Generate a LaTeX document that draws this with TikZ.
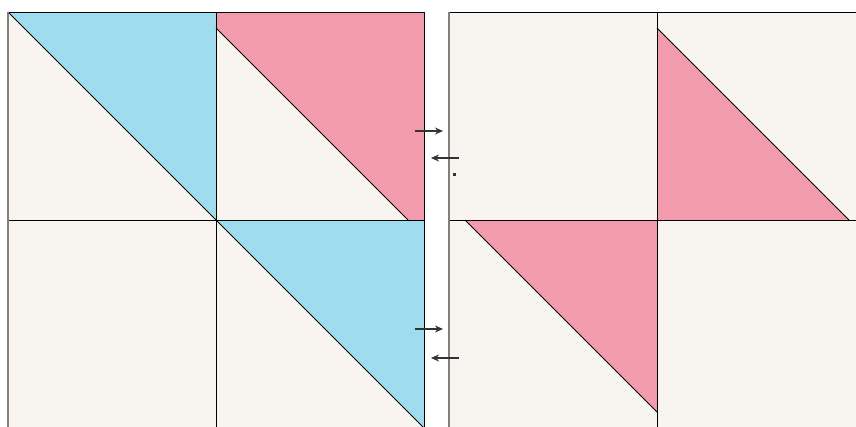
\documentclass[tikz,border=0pt]{standalone}
\usetikzlibrary{arrows.meta}
\definecolor{cream}{HTML}{F8F5F0}
\definecolor{qblue}{HTML}{9EDCEE}
\definecolor{qpink}{HTML}{F19BAC}
\definecolor{arr}{HTML}{333333}
\begin{document}
\begin{tikzpicture}[x=1pt,y=-1pt,
  seam/.style={black,line width=0.9pt},
  edge/.style={gray,line width=1.2pt},
  mover/.style={arr,line width=1.4pt,-{Stealth[length=8pt,width=7pt]}}]
\useasboundingbox (0,0) rectangle (856,426);
\clip (0,0) rectangle (856,426);
% left panel
\fill[cream] (8,12) rectangle (424,430);
\fill[qblue] (8,12) -- (216,12) -- (216,220) -- cycle;
\fill[qpink] (216,12) -- (424,12) -- (424,220) -- (408,220) -- (216,28) -- cycle;
\fill[qblue] (216,220) -- (424,220) -- (424,428) -- cycle;
\draw[seam] (8,12) -- (216,220);
\draw[seam] (216,28) -- (408,220);
\draw[seam] (216,220) -- (424,428);
\draw[seam] (216,12) -- (216,430);
\draw[seam] (8,220) -- (424,220);
\draw[seam] (8,12) -- (424,12);
\draw[seam] (424,12) -- (424,430);
\draw[edge] (8,12) -- (8,430);
% right panel
\fill[cream] (449,12) rectangle (870,430);
\fill[qpink] (657,28) -- (657,220) -- (849,220) -- cycle;
\fill[qpink] (465,220) -- (657,220) -- (657,412) -- cycle;
\draw[seam] (657,28) -- (849,220);
\draw[seam] (465,220) -- (657,412);
\draw[seam] (449,12) -- (870,12);
\draw[seam] (449,220) -- (870,220);
\draw[seam] (657,12) -- (657,430);
\draw[edge] (449,12) -- (449,430);
% arrows
\coordinate (a1s) at (415,131); \coordinate (a1e) at (443,131);
\coordinate (a2s) at (459,158); \coordinate (a2e) at (431,158);
\coordinate (a3s) at (415,329); \coordinate (a3e) at (443,329);
\coordinate (a4s) at (459,358); \coordinate (a4e) at (431,358);
\draw[mover] (a1s) -- (a1e);
\draw[mover] (a2s) -- (a2e);
\draw[mover] (a3s) -- (a3e);
\draw[mover] (a4s) -- (a4e);
\fill[arr] (453,173) rectangle (455.5,175.5);
\end{tikzpicture}
\end{document}
